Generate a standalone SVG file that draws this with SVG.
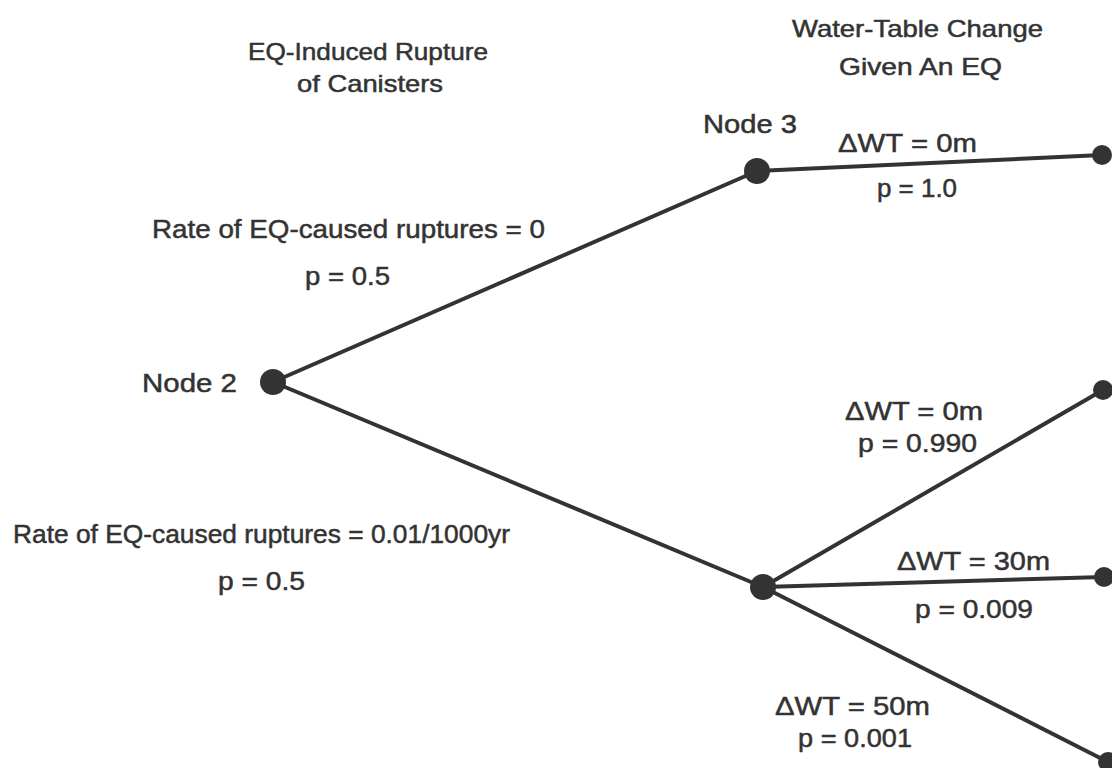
<svg xmlns="http://www.w3.org/2000/svg" width="1112" height="768" viewBox="0 0 1112 768">
  <style>
    .bg { fill: #ffffff; }
    .edge { stroke: #333333; stroke-width: 4; stroke-linecap: round; fill: none; }
    .node { fill: #333333; }
    .leaf { fill: #333333; }
    text { font-family: "Liberation Sans", Arial, sans-serif; fill: #333333; stroke: #333333; stroke-width: 0.5px; }
    .title { font-size: 24px; }
    .lbl { font-size: 26px; }
  </style>
  <rect class="bg" x="0" y="0" width="1112" height="768"/>

  <!-- column headings -->
  <g id="headings">
    <text class="title" x="248" y="60" textLength="240" lengthAdjust="spacingAndGlyphs">EQ-Induced Rupture</text>
    <text class="title" x="297" y="92" textLength="146" lengthAdjust="spacingAndGlyphs">of Canisters</text>
    <text class="title" x="792" y="37" textLength="251" lengthAdjust="spacingAndGlyphs">Water-Table Change</text>
    <text class="title" x="839" y="75" textLength="163" lengthAdjust="spacingAndGlyphs">Given An EQ</text>
  </g>

  <!-- branches -->
  <g id="connectors">
    <line class="edge" x1="273" y1="382" x2="757" y2="171"/>
    <line class="edge" x1="273" y1="382" x2="763" y2="587"/>
    <line class="edge" x1="757" y1="171" x2="1102" y2="155"/>
    <line class="edge" x1="763" y1="587" x2="1103" y2="390"/>
    <line class="edge" x1="763" y1="587" x2="1104" y2="577"/>
    <line class="edge" x1="763" y1="587" x2="1108" y2="762"/>
  </g>

  <!-- branch labels -->
  <g id="branch-labels">
    <text class="lbl" x="152" y="238" textLength="393" lengthAdjust="spacingAndGlyphs">Rate of EQ-caused ruptures = 0</text>
    <text class="lbl" x="305" y="285" textLength="85" lengthAdjust="spacingAndGlyphs">p = 0.5</text>
    <text class="lbl" x="13" y="543" textLength="497" lengthAdjust="spacingAndGlyphs">Rate of EQ-caused ruptures = 0.01/1000yr</text>
    <text class="lbl" x="218" y="590" textLength="87" lengthAdjust="spacingAndGlyphs">p = 0.5</text>

    <text class="lbl" x="838" y="152" textLength="139" lengthAdjust="spacingAndGlyphs">ΔWT = 0m</text>
    <text class="lbl" x="877" y="197" textLength="80" lengthAdjust="spacingAndGlyphs">p = 1.0</text>

    <text class="lbl" x="845" y="420" textLength="138" lengthAdjust="spacingAndGlyphs">ΔWT = 0m</text>
    <text class="lbl" x="858" y="452" textLength="119" lengthAdjust="spacingAndGlyphs">p = 0.990</text>

    <text class="lbl" x="897" y="570" textLength="153" lengthAdjust="spacingAndGlyphs">ΔWT = 30m</text>
    <text class="lbl" x="915" y="618" textLength="118" lengthAdjust="spacingAndGlyphs">p = 0.009</text>

    <text class="lbl" x="775" y="715" textLength="155" lengthAdjust="spacingAndGlyphs">ΔWT = 50m</text>
    <text class="lbl" x="798" y="747" textLength="114" lengthAdjust="spacingAndGlyphs">p = 0.001</text>
  </g>

  <!-- chance nodes -->
  <g id="node2">
    <circle class="node" cx="273" cy="382" r="13"/>
    <text class="lbl" x="142" y="392" textLength="95" lengthAdjust="spacingAndGlyphs">Node 2</text>
  </g>
  <g id="node3">
    <circle class="node" cx="757" cy="171" r="13"/>
    <text class="lbl" x="703" y="133" textLength="94" lengthAdjust="spacingAndGlyphs">Node 3</text>
  </g>
  <g id="node4">
    <circle class="node" cx="763" cy="587" r="13"/>
  </g>

  <!-- terminal points -->
  <g id="leaf1"><circle class="leaf" cx="1102" cy="155" r="10"/></g>
  <g id="leaf2"><circle class="leaf" cx="1103" cy="390" r="10"/></g>
  <g id="leaf3"><circle class="leaf" cx="1104" cy="577" r="10"/></g>
  <g id="leaf4"><circle class="leaf" cx="1108" cy="762" r="10"/></g>
</svg>
